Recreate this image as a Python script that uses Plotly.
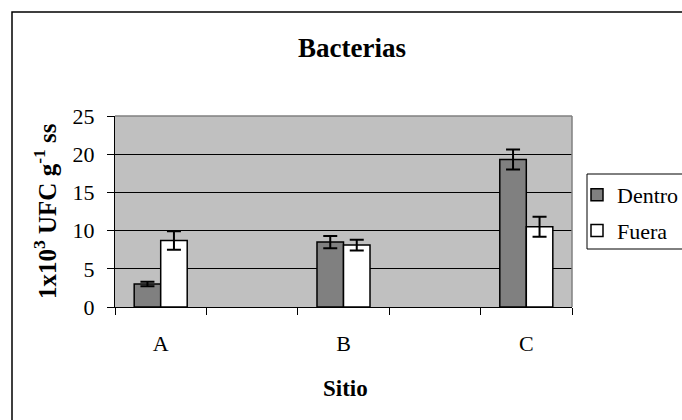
import plotly.graph_objects as go

# ---- data ----
axis_categories = ["A", " ", "B", "  ", "C"]   # spacer slots between sites
sites = ["A", "B", "C"]
dentro = [3.0, 8.5, 19.3]
dentro_err = [0.3, 0.8, 1.3]
fuera = [8.7, 8.1, 10.5]
fuera_err = [1.2, 0.7, 1.3]
y_ticks = [0, 5, 10, 15, 20, 25]

W, H = 682, 420
# plot area in pixels
PL, PR, PT, PB = 115, 572, 116, 307
L, T = PL, PT
R, B = W - PR, H - PB
PW, PH = PR - PL, PB - PT

def px(xs):
    return (xs - PL) / PW

def py(ys):
    return (PB - ys) / PH

SERIF = "Liberation Serif, Times New Roman, serif"

fig = go.Figure()
fig.add_trace(go.Bar(
    name="Dentro", x=sites, y=dentro,
    marker=dict(color="#808080", line=dict(color="black", width=1.5)),
    error_y=dict(type="data", array=dentro_err, color="black", thickness=2, width=7),
    legendgroup="d",
))
fig.add_trace(go.Bar(
    name="Fuera", x=sites, y=fuera,
    marker=dict(color="white", line=dict(color="black", width=1.5)),
    error_y=dict(type="data", array=fuera_err, color="black", thickness=2, width=7),
    legendgroup="f",
))

fig.update_layout(
    width=W, height=H,
    margin=dict(l=L, r=R, t=T, b=B, autoexpand=False),
    paper_bgcolor="white", plot_bgcolor="#c0c0c0",
    barmode="group", bargap=0.42, bargroupgap=0,
    font=dict(family=SERIF, size=22, color="black"),
    title=dict(text="<b>Bacterias</b>", x=px(352), xref="paper", xanchor="center",
               y=1 - 48 / H, yref="container", yanchor="middle",
               font=dict(family=SERIF, size=27, color="black")),
    showlegend=True,
    legend=dict(x=px(577), xanchor="left", y=py(174), yanchor="top",
                bgcolor="rgba(0,0,0,0)", borderwidth=0,
                font=dict(family=SERIF, size=22, color="black"),
                tracegroupgap=4, traceorder="grouped"),
    xaxis=dict(type="category", categoryorder="array", categoryarray=axis_categories,
               range=[-0.5, 4.5], tickson="boundaries", ticks="outside", ticklen=7,
               tickcolor="black", tickwidth=1, showgrid=False, showline=True,
               linecolor="black", linewidth=1.2, ticklabelstandoff=16,
               tickfont=dict(family=SERIF, size=22, color="black"), fixedrange=True),
    yaxis=dict(range=[0, 25], tickvals=y_ticks, ticks="outside", ticklen=7,
               tickcolor="black", tickwidth=1, showgrid=True, gridcolor="black",
               gridwidth=1, zeroline=False, showline=True, linecolor="black",
               linewidth=1.2, ticklabelstandoff=8,
               tickfont=dict(family=SERIF, size=22, color="black"), fixedrange=True),
    annotations=[
        dict(text="<b>1x10<sup>3</sup> UFC g<sup>-1</sup> ss</b>", textangle=-90,
             x=px(45), y=py(211), xref="paper", yref="paper", showarrow=False,
             xanchor="center", yanchor="middle",
             font=dict(family=SERIF, size=25, color="black")),
        dict(text="<b>Sitio</b>", x=px(345), y=py(388), xref="paper", yref="paper",
             showarrow=False, xanchor="center", yanchor="middle",
             font=dict(family=SERIF, size=23, color="black")),
    ],
    shapes=[
        # chart area border
        dict(type="rect", xref="paper", yref="paper", x0=px(12), x1=px(700),
             y0=py(440), y1=py(12), line=dict(color="black", width=1.5), layer="below"),
        # plot area top & right border (grey)
        dict(type="line", xref="paper", yref="paper", x0=0, x1=1, y0=1, y1=1,
             line=dict(color="#808080", width=1.5), layer="above"),
        dict(type="line", xref="paper", yref="paper", x0=1, x1=1, y0=0, y1=1,
             line=dict(color="#808080", width=1.5), layer="above"),
        # legend box
        dict(type="rect", xref="paper", yref="paper", x0=px(587), x1=px(700),
             y0=py(249), y1=py(174), line=dict(color="black", width=1), layer="below"),
    ],
)

# remove the browser's default page margin so the 682x420 figure fills the window
fig.write_html(
    "out.html",
    config={"displayModeBar": False},
    post_script="document.body.style.margin='0';document.body.style.overflow='hidden';",
)
